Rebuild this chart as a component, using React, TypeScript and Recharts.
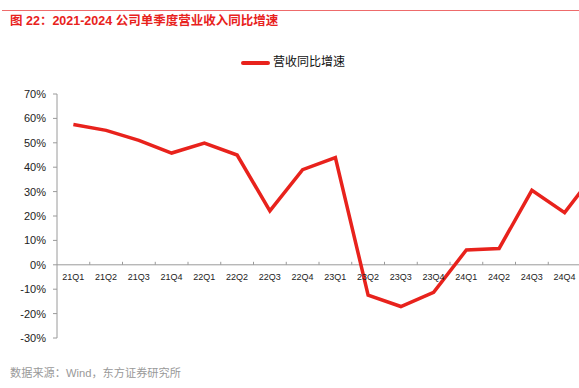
import { LineChart, Line, XAxis, YAxis, ReferenceLine } from 'recharts';

// 单季度营收同比增速 (%), the last quarter runs past the right edge of the picture
const quarters = [
  '21Q1', '21Q2', '21Q3', '21Q4',
  '22Q1', '22Q2', '22Q3', '22Q4',
  '23Q1', '23Q2', '23Q3', '23Q4',
  '24Q1', '24Q2', '24Q3', '24Q4',
  '25Q1',
];
const revenueYoY = [
  57.5, 55.1, 51.0, 45.8,
  49.9, 45.0, 22.1, 39.0,
  43.9, -12.4, -17.1, -11.3,
  6.1, 6.7, 30.5, 21.4,
  38.8,
];
const yTicks = [-30, -20, -10, 0, 10, 20, 30, 40, 50, 60, 70];

const title = '图 22：2021-2024 公司单季度营业收入同比增速';
const seriesName = '营收同比增速';
const source = '数据来源：Wind，东方证券研究所';

const FONT = '"Liberation Sans", Arial, "Noto Sans CJK SC", sans-serif';
const RED = '#e8221c';
const AXIS = '#9a9a9a';

// layout
const VIEW_W = 579;
const CHART_W = 620;
const CHART_H = 388;
const PLOT_TOP = 94;
const PLOT_BOTTOM = 338;
const Y_AXIS_W = 57;
const BAND = 32.75;
const Y_MIN = -30;
const Y_MAX = 70;
const ZERO_Y = PLOT_TOP + ((Y_MAX - 0) / (Y_MAX - Y_MIN)) * (PLOT_BOTTOM - PLOT_TOP);

const data = quarters.map((q, i) => ({ q, v: revenueYoY[i] }));

// category labels sit under the 0% line, with tick marks on the band edges
function QuarterTick({ x, payload }: any) {
  // the picture is cut at the right edge, the label beyond it is not drawn
  const visible = x + 11 < VIEW_W;
  return (
    <g>
      <line x1={x + BAND / 2} x2={x + BAND / 2} y1={ZERO_Y - 3} y2={ZERO_Y} stroke={AXIS} strokeWidth={1} />
      {visible && (
        <text x={x} y={ZERO_Y + 15.5} textAnchor="middle" fontSize={9} fill="#222" fontFamily={FONT}>
          {payload.value}
        </text>
      )}
    </g>
  );
}

export default function App() {
  return (
    <div
      style={{
        position: 'absolute',
        left: 0,
        top: 0,
        width: VIEW_W,
        height: 388,
        overflow: 'hidden',
        background: '#fff',
        fontFamily: FONT,
      }}
    >
      <div style={{ position: 'absolute', left: 2, right: 0, top: 10, height: 1, background: '#ee6b6b' }} />
      <div
        style={{
          position: 'absolute',
          left: 10,
          top: 12,
          fontSize: 12.5,
          lineHeight: '18px',
          fontWeight: 'bold',
          color: RED,
          whiteSpace: 'nowrap',
        }}
      >
        {title}
      </div>

      {/* legend */}
      <div style={{ position: 'absolute', left: 241, top: 61, width: 29, height: 3.5, background: RED, borderRadius: 2 }} />
      <div
        style={{
          position: 'absolute',
          left: 273,
          top: 53,
          fontSize: 12,
          lineHeight: '18px',
          color: '#111',
          whiteSpace: 'nowrap',
        }}
      >
        {seriesName}
      </div>

      <div style={{ position: 'absolute', left: 0, top: 0 }}>
        <LineChart
          width={CHART_W}
          height={CHART_H}
          data={data}
          margin={{ top: PLOT_TOP, right: CHART_W - Y_AXIS_W - BAND * quarters.length, bottom: CHART_H - PLOT_BOTTOM - 20, left: 0 }}
        >
          <XAxis
            dataKey="q"
            height={20}
            axisLine={false}
            tickLine={false}
            interval={0}
            padding={{ left: BAND / 2, right: BAND / 2 }}
            tick={<QuarterTick />}
          />
          <YAxis
            width={Y_AXIS_W}
            domain={[Y_MIN, Y_MAX]}
            ticks={yTicks}
            interval={0}
            tickFormatter={(v: number) => `${v}%`}
            axisLine={{ stroke: AXIS }}
            tickLine={{ stroke: AXIS }}
            tickSize={4}
            tickMargin={7}
            tick={{ fontSize: 11, fill: '#222', fontFamily: FONT }}
          />
          <ReferenceLine y={0} stroke={AXIS} strokeWidth={1} />
          <Line
            dataKey="v"
            type="linear"
            stroke={RED}
            strokeWidth={3.5}
            dot={false}
            activeDot={false}
            isAnimationActive={false}
          />
        </LineChart>
      </div>

      <div
        style={{
          position: 'absolute',
          left: 10,
          top: 365,
          fontSize: 11.2,
          lineHeight: '16px',
          color: '#999',
          whiteSpace: 'nowrap',
        }}
      >
        {source}
      </div>
    </div>
  );
}
